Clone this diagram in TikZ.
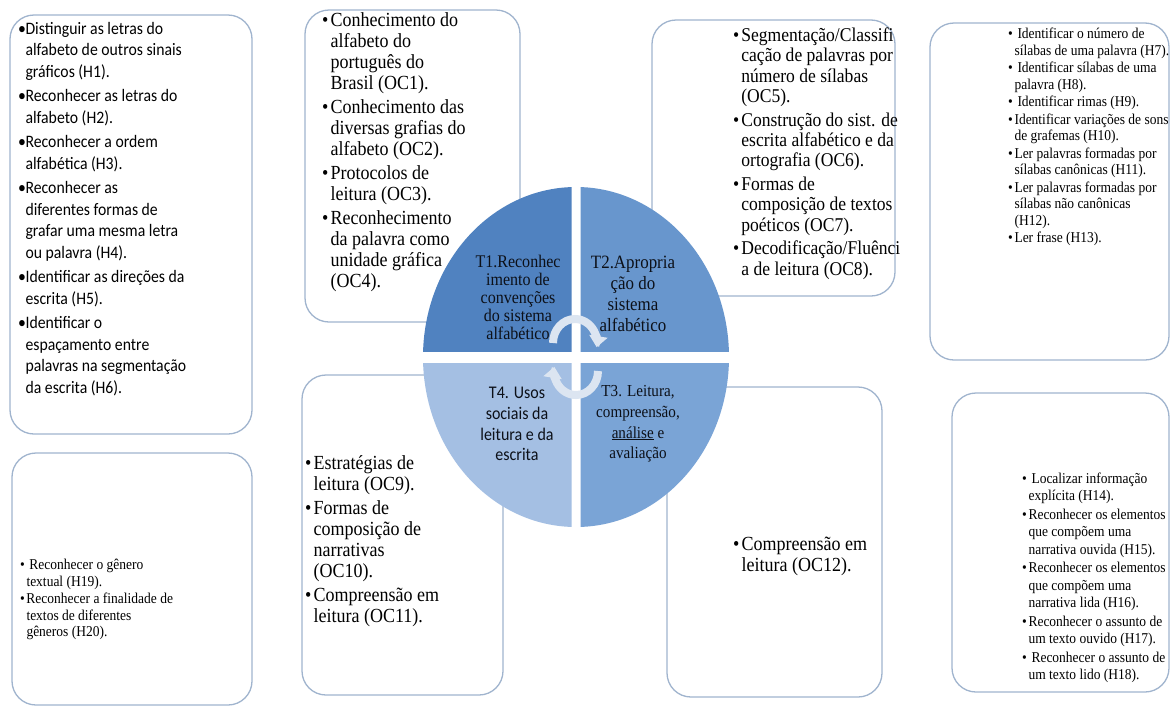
\documentclass[tikz,border=0pt]{standalone}
\usepackage{fontspec}
\setmainfont{Liberation Serif}[FakeStretch=0.9]
\newfontfamily\calfont{Carlito}[FakeStretch=0.9]
\usetikzlibrary{arrows.meta}

\definecolor{panelline}{RGB}{160,180,206}
\definecolor{qone}{RGB}{80,130,192}
\definecolor{qtwo}{RGB}{104,150,205}
\definecolor{qthree}{RGB}{122,164,214}
\definecolor{qfour}{RGB}{164,191,227}
\definecolor{qtext}{RGB}{12,16,24}
\definecolor{cyclearrow}{RGB}{220,229,241}

% bullets and hanging indent for the lists
\newcommand{\bl}{\makebox[0.42em][l]{•}}
\newcommand{\bls}{\makebox[0.62em][l]{•}}
\newcommand{\ind}{\hspace*{0.42em}}

\begin{document}
\begin{tikzpicture}[x=1pt,y=-1pt,
  panel/.style={draw=panelline, line width=1.3pt, rounded corners=24pt, fill=white, inner sep=0pt},
  items/.style={anchor=north west, inner sep=0pt, align=left, text=black},
  serifbig/.style={font=\fontsize{20}{21}\selectfont},
  serifmid/.style={font=\fontsize{19.5}{20.3}\selectfont},
  serifsmall/.style={font=\fontsize{15}{16.5}\selectfont},
  sansitems/.style={font=\calfont\fontsize{17.5}{21.5}\selectfont},
  quadtext/.style={align=center, inner sep=0pt, text=qtext},
  cyc/.style={draw=cyclearrow, line width=8pt, -{Triangle[width=18pt,length=11pt]}}
]
\useasboundingbox (0,0) rectangle (1172,710);
\fill[white] (0,0) rectangle (1172,710);

% ---- outer panels ----
\node[panel, minimum width=242pt, minimum height=419pt] (b1) at (131,224.5) {};
\node[panel, minimum width=240pt, minimum height=252pt] (b2) at (132,579) {};
\node[panel, minimum width=215pt, minimum height=312pt] (b3) at (412.5,166) {};
\node[panel, minimum width=243pt, minimum height=276pt] (b4) at (773.5,158) {};
\node[panel, minimum width=239pt, minimum height=337pt] (b5) at (1049.5,191.5) {};
\node[panel, minimum width=201pt, minimum height=320pt] (b6) at (402.5,535) {};
\node[panel, minimum width=215pt, minimum height=310pt] (b7) at (774.5,542) {};
\node[panel, minimum width=217pt, minimum height=299pt] (b8) at (1060.5,542.5) {};

% ---- panel texts ----
\node[items, sansitems] (l1) at (18,19) {\strut\bl Distinguir as letras do\\
\ind alfabeto de outros sinais\\
\ind gráficos (H1).\\[3pt]
\bl Reconhecer as letras do\\
\ind alfabeto (H2).\\[3pt]
\bl Reconhecer a ordem\\
\ind alfabética (H3).\\[3pt]
\bl Reconhecer as\\
\ind diferentes formas de\\
\ind grafar uma mesma letra\\
\ind ou palavra (H4).\\[3pt]
\bl Identificar as direções da\\
\ind escrita (H5).\\[3pt]
\bl Identificar o\\
\ind espaçamento entre\\
\ind palavras na segmentação\\
\ind da escrita (H6).};

\node[items, serifsmall] (l2) at (20,558) {\strut\bls Reconhecer o gênero\\
\ind textual (H19).\\[1pt]
\bl Reconhecer a finalidade de\\
\ind textos de diferentes\\
\ind gêneros (H20).};

\node[items, serifbig] (l3) at (322,12) {\strut\bl Conhecimento do\\
\ind alfabeto do\\
\ind português do\\
\ind Brasil (OC1).\\[3pt]
\bl Conhecimento das\\
\ind diversas grafias do\\
\ind alfabeto (OC2).\\[3pt]
\bl Protocolos de\\
\ind leitura (OC3).\\[3pt]
\bl Reconhecimento\\
\ind da palavra como\\
\ind unidade gráfica\\
\ind (OC4).};

\node[items, serifmid] (l4) at (733,27) {\strut\bl Segmentação/Classifi\\
\ind cação de palavras por\\
\ind número de sílabas\\
\ind (OC5).\\[3.5pt]
\bl Construção do sist. de\\
\ind escrita alfabético e da\\
\ind ortografia (OC6).\\[3.5pt]
\bl Formas de\\
\ind composição de textos\\
\ind poéticos (OC7).\\[3.5pt]
\bl Decodificação/Fluênci\\
\ind a de leitura (OC8).};

\node[items, serifsmall] (l5) at (1008,27) {\strut\bls Identificar o número de\\
\ind sílabas de uma palavra (H7).\\[1pt]
\bls Identificar sílabas de uma\\
\ind palavra (H8).\\[1pt]
\bls Identificar rimas (H9).\\[1pt]
\bl Identificar variações de sons\\
\ind de grafemas (H10).\\[1pt]
\bl Ler palavras formadas por\\
\ind sílabas canônicas (H11).\\[1pt]
\bl Ler palavras formadas por\\
\ind sílabas não canônicas\\
\ind (H12).\\[1pt]
\bl Ler frase (H13).};

\node[items, serifbig] (l6) at (305,455) {\strut\bl Estratégias de\\
\ind leitura (OC9).\\[3pt]
\bl Formas de\\
\ind composição de\\
\ind narrativas\\
\ind (OC10).\\[3pt]
\bl Compreensão em\\
\ind leitura (OC11).};

\node[items, serifbig] (l7) at (733,536) {\strut\bl Compreensão em\\
\ind leitura (OC12).};

\node[items, font=\fontsize{15}{17.5}\selectfont] (l8) at (1022,471) {\strut\bls Localizar informação\\
\ind explícita (H14).\\[1pt]
\bl Reconhecer os elementos\\
\ind que compõem uma\\
\ind narrativa ouvida (H15).\\[1pt]
\bl Reconhecer os elementos\\
\ind que compõem uma\\
\ind narrativa lida (H16).\\[1pt]
\bl Reconhecer o assunto de\\
\ind um texto ouvido (H17).\\[1pt]
\bls Reconhecer o assunto de\\
\ind um texto lido (H18).};

% ---- central split disc ----
\begin{scope}
  \clip (400,170) rectangle (571.5,351);
  \fill[qone] (576,357) ellipse [x radius=153, y radius=170];
\end{scope}
\begin{scope}
  \clip (580.5,170) rectangle (750,351);
  \fill[qtwo] (576,357) ellipse [x radius=153, y radius=170];
\end{scope}
\begin{scope}
  \clip (580.5,363) rectangle (750,545);
  \fill[qthree] (576,357) ellipse [x radius=153, y radius=170];
\end{scope}
\begin{scope}
  \clip (400,363) rectangle (571.5,545);
  \fill[qfour] (576,357) ellipse [x radius=153, y radius=170];
\end{scope}

\node[quadtext, font=\fontsize{17.8}{18}\selectfont] (t1) at (518,297)
  {T1.Reconhec\\imento de\\convenções\\do sistema\\alfabético};
\node[quadtext, font=\fontsize{18.8}{21}\selectfont] (t2) at (633,294)
  {T2.Apropria\\ção do\\sistema\\alfabético};
\node[quadtext, font=\fontsize{16.8}{20.7}\selectfont] (t3) at (638,424)
  {T3. Leitura,\\compreensão,\\\underline{análise} e\\avaliação};
\node[quadtext, font=\calfont\fontsize{17.8}{20.7}\selectfont] (t4) at (517,424)
  {T4. Usos\\sociais da\\leitura e da\\escrita};

% ---- cycle arrows ----
\coordinate (c1) at (553,343);
\coordinate (c2) at (598,371);
\draw[cyc] (c1) arc[start angle=180, end angle=370, x radius=22, y radius=24];
\draw[cyc] (c2) arc[start angle=0, end angle=190, x radius=22, y radius=24];
\end{tikzpicture}
\end{document}
